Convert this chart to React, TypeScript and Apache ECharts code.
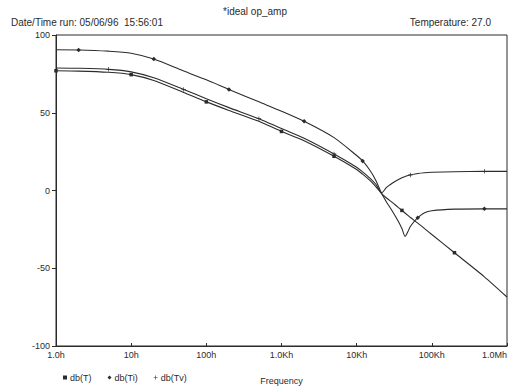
import React, { useEffect, useRef } from "react";
import * as echarts from "echarts";

const freq = [1, 2, 5, 10, 20, 50, 100, 200, 500, 1e3, 2e3, 5e3, 1e4, 1.2e4, 1.5e4, 1.8e4, 2.15e4, 2.5e4, 3e4, 3.5e4, 4e4, 4.4e4, 4.8e4, 5.2e4, 6.5e4, 8e4, 1e5, 2e5, 5e5, 1e6];

const dbT = [77, 76.8, 76, 74.5, 70.7, 63, 57, 51.5, 44.5, 38, 32, 22, 13.5, 10.5, 6.5, 2.5, -2, -4.8, -7.8, -10.5, -12.8, -14.5, -16, -17.4, -21, -24.5, -28.3, -40, -55.5, -68.5];
const dbTi = [90.5, 90.4, 89.6, 88.3, 84.5, 76.8, 71.2, 65, 57, 51, 44.5, 34, 22.5, 19, 13, 6.5, -2, -7.5, -13.5, -19, -24.5, -29.5, -26.5, -23, -17.5, -14.3, -13, -12, -11.8, -11.8];
const dbTv = [78.8, 78.6, 77.9, 76.3, 72.5, 65, 59, 53.3, 46.2, 39.8, 33.6, 23.5, 15, 12, 8, 4, -1.5, 2, 4.8, 6.8, 8.2, 9, 9.6, 10, 10.9, 11.4, 11.7, 12.1, 12.3, 12.3];

const markT = [1, 10, 100, 1e3, 5e3, 4e4, 2e5];
const markTi = [2, 20, 200, 2e3, 1.2e4, 6.5e4, 5e5];
const markTv = [5, 50, 500, 5e3, 5.2e4, 5e5];

const xTickLabels = ["1.0h", "10h", "100h", "1.0Kh", "10Kh", "100Kh", "1.0Mh"];
const yTicks = [-100, -50, 0, 50, 100];

const PLUS = "path://M0,3.4H8V4.6H0Z M3.4,0H4.6V8H3.4Z";
const INK = "#2b2b2b";
const FONT = "Liberation Sans";

function build(values: number[], marks: number[], size: number) {
  return freq.map((f, i) => ({
    value: [f, values[i]],
    symbolSize: marks.includes(f) ? size : 0,
  }));
}

export default function App() {
  const ref = useRef<HTMLDivElement>(null);
  useEffect(() => {
    if (!ref.current) return;
    const chart = echarts.init(ref.current, undefined, { renderer: "svg" });
    const lineCommon = {
      type: "line" as const,
      smooth: 0.25,
      showSymbol: true,
      lineStyle: { color: INK, width: 1.1 },
      itemStyle: { color: INK },
      emphasis: { disabled: true },
    };
    chart.setOption({
      animation: false,
      backgroundColor: "#ffffff",
      textStyle: { fontFamily: FONT, color: INK },
      title: [
        { text: "*ideal op_amp", left: "center", top: 1, textStyle: { fontSize: 10, fontWeight: "normal", color: INK, fontFamily: FONT } },
        { text: "Date/Time run: 05/06/96  15:56:01", left: 6, top: 12, textStyle: { fontSize: 10, fontWeight: "normal", color: INK, fontFamily: FONT } },
        { text: "Temperature: 27.0", right: 14, top: 12, textStyle: { fontSize: 10, fontWeight: "normal", color: INK, fontFamily: FONT } },
      ],
      legend: {
        left: 58,
        top: 368,
        itemWidth: 4,
        itemHeight: 4,
        itemGap: 16,
        textStyle: { fontSize: 9, color: INK, fontFamily: FONT, padding: [0, 0, 0, -2] },
        data: [
          { name: "db(T)", icon: "rect" },
          { name: "db(Ti)", icon: "diamond" },
          { name: "db(Tv)", icon: PLUS },
        ],
      },
      grid: { left: 56, right: 2, top: 35, bottom: 38, show: true, borderColor: INK, borderWidth: 1, backgroundColor: "transparent" },
      xAxis: {
        type: "log",
        logBase: 10,
        min: 1,
        max: 1e6,
        name: "Frequency",
        nameLocation: "middle",
        nameGap: 30,
        nameTextStyle: { fontSize: 9, color: INK, fontFamily: FONT },
        axisLine: { onZero: false, lineStyle: { color: INK, width: 1 } },
        axisTick: { show: true, inside: true, length: 3, lineStyle: { color: INK } },
        minorTick: { show: false },
        splitLine: { show: false },
        axisLabel: {
          fontSize: 9,
          color: INK,
          margin: 4,
          fontFamily: FONT,
          alignMaxLabel: "right",
          formatter: (v: number) => xTickLabels[Math.round(Math.log10(v))] ?? "",
        },
      },
      yAxis: {
        type: "value",
        min: yTicks[0],
        max: yTicks[yTicks.length - 1],
        interval: 50,
        axisLine: { show: true, onZero: false, lineStyle: { color: INK, width: 1 } },
        axisTick: { show: true, inside: false, length: 4, lineStyle: { color: INK } },
        splitLine: { show: false },
        axisLabel: { fontSize: 9, color: INK, margin: 6, fontFamily: FONT },
      },
      series: [
        { ...lineCommon, name: "db(T)", symbol: "rect", data: build(dbT, markT, 3.5) },
        { ...lineCommon, name: "db(Ti)", symbol: "diamond", data: build(dbTi, markTi, 4.5) },
        { ...lineCommon, name: "db(Tv)", symbol: PLUS, data: build(dbTv, markTv, 4.5) },
      ],
    });
    return () => chart.dispose();
  }, []);
  return <div ref={ref} style={{ position: "fixed", left: 0, top: 0, width: 510, height: 390 }} />;
}
